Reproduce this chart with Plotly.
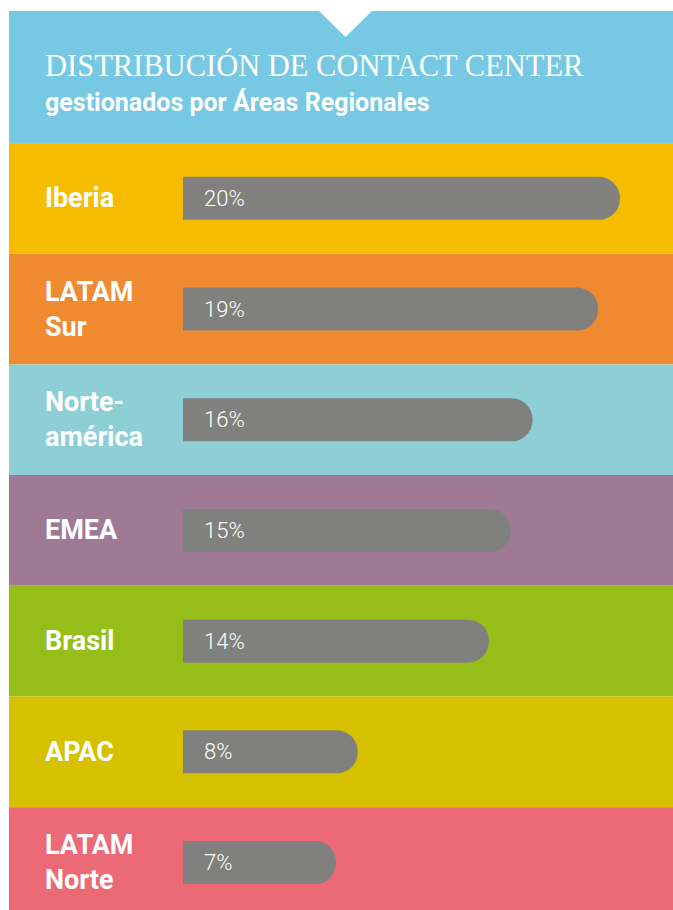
import plotly.graph_objects as go

# Data
regions = ["Iberia", "LATAM Sur", "Norteamérica", "EMEA", "Brasil", "APAC", "LATAM Norte"]
region_labels = ["Iberia", "LATAM<br>Sur", "Norte-<br>américa", "EMEA", "Brasil", "APAC", "LATAM<br>Norte"]
shares = [20, 19, 16, 15, 14, 8, 7]
row_colors = ["#F6BD00", "#F08A30", "#8ECFD6", "#9E7A94", "#96BE18", "#D6C100", "#EB6A75"]

title_text = "DISTRIBUCIÓN DE CONTACT CENTER"
subtitle_text = "gestionados por Áreas Regionales"

W, H = 673, 910
HEADER_COLOR = "#77C8E3"
BAR_COLOR = "#80807E"

PX_PER_UNIT = 21.85       # horizontal pixels per percentage point
BAR_X0 = 183               # pixel where bars start
ROW_TOP = 143              # pixel where the first row starts
ROW_H = 110.7              # pixel height of each row
PANEL_LEFT = 9
PANEL_TOP = 11


def px_x(p):
    return p / W


def px_y(p):
    return 1 - p / H


n = len(regions)
y_idx = list(range(n))
y_bottom = (H - ROW_TOP) / ROW_H - 0.5

fig = go.Figure()
fig.add_trace(go.Bar(
    x=shares,
    y=y_idx,
    orientation="h",
    marker=dict(color=BAR_COLOR, line=dict(width=0)),
    width=43 / ROW_H,
    hoverinfo="skip",
))

shapes = []
# header panel
shapes.append(dict(type="rect", xref="paper", yref="paper",
                   x0=px_x(PANEL_LEFT), x1=1, y0=px_y(ROW_TOP), y1=px_y(PANEL_TOP),
                   fillcolor=HEADER_COLOR, line=dict(width=0), layer="below"))
# notch at top of header
shapes.append(dict(type="path", xref="paper", yref="paper",
                   path=f"M {px_x(318)} {px_y(PANEL_TOP - 1)} L {px_x(373)} {px_y(PANEL_TOP - 1)} "
                        f"L {px_x(345.5)} {px_y(37)} Z",
                   fillcolor="white", line=dict(width=0), layer="below"))
# row backgrounds
for i, c in enumerate(row_colors):
    shapes.append(dict(type="rect", xref="paper", yref="y",
                       x0=px_x(PANEL_LEFT), x1=1, y0=i - 0.5, y1=i + 0.5,
                       fillcolor=c, line=dict(width=0), layer="below"))

annotations = [
    dict(text=title_text, xref="paper", yref="paper", x=px_x(43), y=px_y(66),
         xanchor="left", yanchor="middle", showarrow=False,
         font=dict(family="Liberation Serif", size=30.5, color="white")),
    dict(text=subtitle_text, xref="paper", yref="paper", x=px_x(43), y=px_y(102),
         xanchor="left", yanchor="middle", showarrow=False,
         font=dict(family="Roboto", size=25, color="white", weight=700)),
]
for i, lab in enumerate(region_labels):
    annotations.append(dict(text=lab, xref="paper", yref="y", x=px_x(43), y=i,
                            xanchor="left", yanchor="middle", align="left", showarrow=False,
                            font=dict(family="Roboto", size=27, color="white", weight=700)))
for i, v in enumerate(shares):
    annotations.append(dict(text=f"{v}%", xref="x", yref="y", x=0, y=i, xshift=19,
                            xanchor="left", yanchor="middle", showarrow=False,
                            font=dict(family="Roboto", size=22, color="white", weight=300)))

fig.update_layout(
    width=W, height=H,
    margin=dict(l=0, r=0, t=0, b=0),
    paper_bgcolor="white", plot_bgcolor="rgba(0,0,0,0)",
    showlegend=False,
    barcornerradius="50%",
    xaxis=dict(range=[-BAR_X0 / PX_PER_UNIT, (W - BAR_X0) / PX_PER_UNIT],
               domain=[0, 1], visible=False, fixedrange=True),
    yaxis=dict(range=[y_bottom, -0.5], domain=[0, px_y(ROW_TOP)],
               visible=False, fixedrange=True),
    shapes=shapes,
    annotations=annotations,
)

fig.write_html("out.html")
